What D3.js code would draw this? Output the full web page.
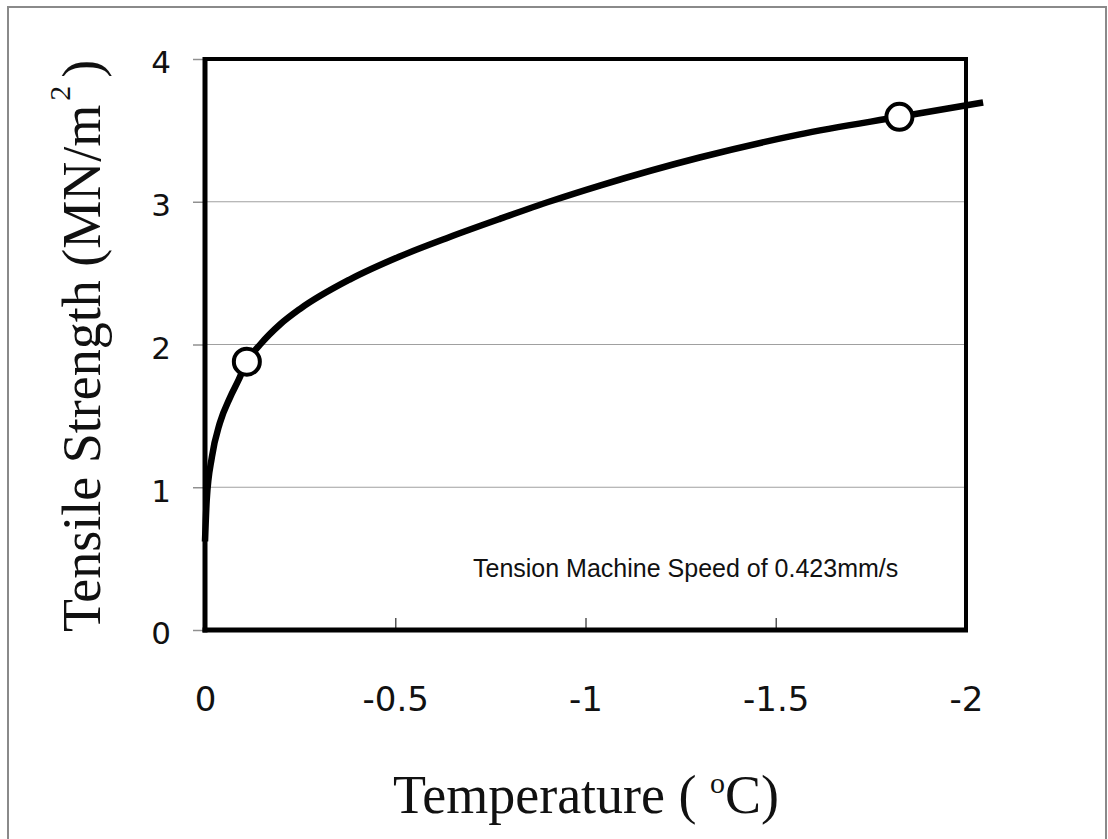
<!DOCTYPE html>
<html>
<head>
<meta charset="utf-8">
<script src="https://cdn.jsdelivr.net/npm/d3@7"></script>
<style>
  body { margin: 0; background: #fff; }
  svg { display: block; }
</style>
</head>
<body>
<svg id="chart"></svg>
<script>
// values
const tempC = [0, -0.0045, -0.018, -0.039, -0.066, -0.088, -0.110, -0.145, -0.197, -0.25, -0.38,
  -0.51, -0.64, -0.775, -0.91, -1.04, -1.30, -1.56, -1.825, -2.045];
const strength = [0.62, 0.91, 1.21, 1.45, 1.63, 1.75, 1.88, 2.00, 2.14, 2.25, 2.455,
  2.615, 2.75, 2.88, 3.005, 3.115, 3.31, 3.47, 3.595, 3.695];
const markerTemp = [-0.11, -1.825];
const markerStrength = [1.88, 3.595];
const xTicks = [0, -0.5, -1, -1.5, -2];
const yTicks = [0, 1, 2, 3, 4];
const gridValues = [1, 2, 3];

const W = 1108, H = 839;
const margin = { top: 59, right: 142, bottom: 209, left: 205 };
const width = W - margin.left - margin.right;
const height = H - margin.top - margin.bottom;

const svg = d3.select("#chart").attr("width", W).attr("height", H);

// outer gray border
svg.append("rect")
  .attr("x", 8).attr("y", 7)
  .attr("width", 1098).attr("height", 850)
  .attr("fill", "none").attr("stroke", "#8a8a8a").attr("stroke-width", 2);

const g = svg.append("g").attr("transform", `translate(${margin.left},${margin.top})`);

const x = d3.scaleLinear().domain([0, -2]).range([0, width]);
const y = d3.scaleLinear().domain([0, 4]).range([height, 0]);

// grid
g.append("g").selectAll("line").data(gridValues).join("line")
  .attr("x1", 0).attr("x2", width)
  .attr("y1", d => y(d)).attr("y2", d => y(d))
  .attr("stroke", "#a0a0a0").attr("stroke-width", 1.2);

// y axis
const yAxis = g.append("g")
  .call(d3.axisLeft(y).tickValues(yTicks).tickSize(12).tickPadding(22).tickFormat(d3.format("d")));
yAxis.select(".domain").remove();
yAxis.selectAll(".tick line").attr("stroke", "#909090").attr("stroke-width", 1.5);
yAxis.selectAll(".tick text")
  .attr("fill", "#111").attr("dy", "0.45em")
  .style("font-family", "'DejaVu Sans', sans-serif").style("font-size", "31px");

// x axis, ticks pointing inwards
const xAxis = g.append("g").attr("transform", `translate(0,${height})`)
  .call(d3.axisBottom(x).tickValues(xTicks).tickSize(-12).tickPadding(57).tickFormat(d => d === 0 ? "0" : String(d)));
xAxis.select(".domain").remove();
xAxis.selectAll(".tick line").attr("stroke", "#555").attr("stroke-width", 1.5)
  .attr("display", d => (d === 0 || d === -2) ? "none" : null);
xAxis.selectAll(".tick text")
  .attr("fill", "#111")
  .style("font-family", "'DejaVu Sans', sans-serif").style("font-size", "34px");

// frame
g.append("line").attr("x1", 0).attr("x2", width).attr("y1", 0).attr("y2", 0)
  .attr("stroke", "#000").attr("stroke-width", 4);
g.append("line").attr("x1", width).attr("x2", width).attr("y1", -2).attr("y2", height)
  .attr("stroke", "#000").attr("stroke-width", 4);
g.append("line").attr("x1", 0).attr("x2", 0).attr("y1", -2).attr("y2", height + 2.5)
  .attr("stroke", "#000").attr("stroke-width", 5);
g.append("line").attr("x1", -2.5).attr("x2", width + 2).attr("y1", height).attr("y2", height)
  .attr("stroke", "#000").attr("stroke-width", 5);

// curve
const pts = tempC.map((t, i) => [t, strength[i]]);
const line = d3.line().x(d => x(d[0])).y(d => y(d[1])).curve(d3.curveMonotoneX);
g.append("path").datum(pts)
  .attr("d", line)
  .attr("fill", "none").attr("stroke", "#000").attr("stroke-width", 6.5)
  .attr("stroke-linecap", "butt");

// markers
g.append("g").selectAll("circle").data(markerTemp).join("circle")
  .attr("cx", d => x(d))
  .attr("cy", (d, i) => y(markerStrength[i]))
  .attr("r", 13)
  .attr("fill", "#fff").attr("stroke", "#000").attr("stroke-width", 4);

// annotation
g.append("text")
  .attr("x", 473 - margin.left).attr("y", 577 - margin.top)
  .attr("fill", "#111")
  .style("font-family", "'Liberation Sans', Arial, sans-serif").style("font-size", "25px")
  .text("Tension Machine Speed of 0.423mm/s");

// x title
const xt = svg.append("text")
  .attr("x", 393).attr("y", 813)
  .attr("fill", "#111")
  .style("font-family", "'Liberation Serif', 'Times New Roman', serif").style("font-size", "54px");
xt.append("tspan").text("Temperature ( ");
xt.append("tspan").attr("dy", -20).style("font-size", "30px").text("o");
xt.append("tspan").attr("dy", 20).text("C)");

// y title
const yt = svg.append("text")
  .attr("transform", "translate(100,632) rotate(-90)")
  .attr("fill", "#111")
  .style("font-family", "'Liberation Serif', 'Times New Roman', serif").style("font-size", "54px");
yt.append("tspan").text("Tensile Strength (MN/m");
yt.append("tspan").attr("dx", 4).attr("dy", -30).style("font-size", "30px").text("2");
yt.append("tspan").attr("dx", 8).attr("dy", 30).text(")");
</script>
</body>
</html>
